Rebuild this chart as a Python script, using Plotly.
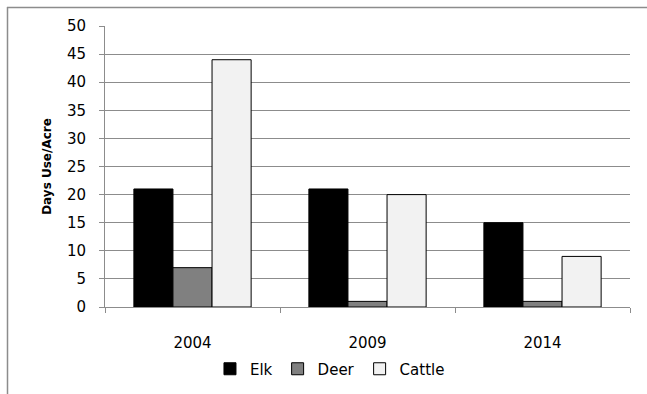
import plotly.graph_objects as go

years = ["2004", "2009", "2014"]
elk = [21, 21, 15]
deer = [7, 1, 1]
cattle = [44, 20, 9]
y_ticks = [0, 5, 10, 15, 20, 25, 30, 35, 40, 45, 50]

W, H = 647, 394
L, R, T, B = 105, 17, 26, 87
pw, ph = W - L - R, H - T - B

def px(x):
    return (x - L) / pw

def py(y):
    return (H - B - y) / ph

fig = go.Figure()
for name, vals, col in [("Elk", elk, "#000000"), ("Deer", deer, "#808080"), ("Cattle", cattle, "#f2f2f2")]:
    fig.add_trace(go.Bar(x=years, y=vals, name=name,
                         marker=dict(color=col, line=dict(color="#000000", width=1))))

grid = "#8c8c8c"
fig.update_layout(
    width=W, height=H,
    margin=dict(l=L, r=R, t=T, b=B, autoexpand=False),
    paper_bgcolor="white", plot_bgcolor="white",
    barmode="group", bargap=0.33, bargroupgap=0,
    font=dict(family="DejaVu Sans", size=15, color="#000000"),
    showlegend=True,
    legend=dict(orientation="h", x=0.51, xanchor="center", xref="container",
                y=1 - 369 / H, yanchor="middle", yref="container",
                font=dict(size=15), itemwidth=30, traceorder="normal",
                tracegroupgap=0, bgcolor="rgba(0,0,0,0)"),
    xaxis=dict(showline=True, linecolor=grid, linewidth=1, ticks="outside", ticklen=5,
               tickcolor=grid, tickson="boundaries", showgrid=False, ticklabelstandoff=22,
               automargin=False),
    yaxis=dict(range=[0, 50], tickvals=y_ticks, showline=True, linecolor=grid, linewidth=1,
               ticks="outside", ticklen=5, tickcolor=grid, showgrid=True, gridcolor=grid,
               gridwidth=1, zeroline=False, ticklabelstandoff=10, automargin=False,
               title=dict(text="<b>Days Use/Acre</b>", font=dict(size=12), standoff=12)),
    shapes=[
        dict(type="line", xref="paper", yref="paper", x0=px(7), x1=px(700), y0=py(7.5), y1=py(7.5),
             line=dict(color="#8c8c8c", width=1.5)),
        dict(type="line", xref="paper", yref="paper", x0=px(7.5), x1=px(7.5), y0=py(7), y1=py(450),
             line=dict(color="#8c8c8c", width=1.5)),
    ],
)

fig.write_html("out.html")
